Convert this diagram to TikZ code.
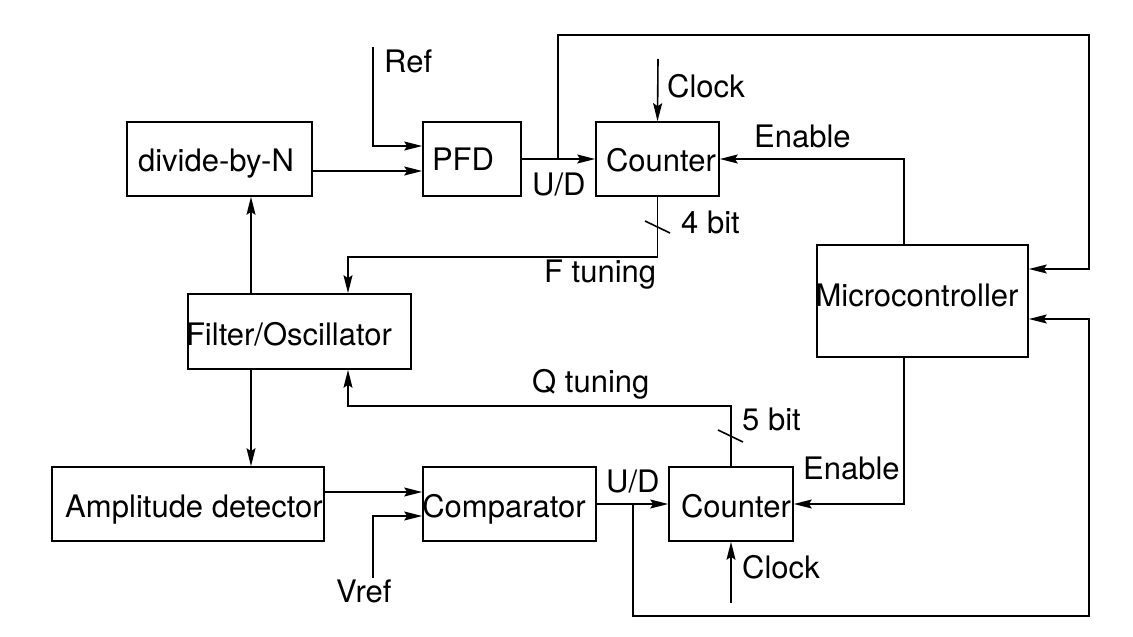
\documentclass[tikz,border=0pt]{standalone}
\usepackage{fontspec}
\setmainfont{TeX Gyre Heros}
\usetikzlibrary{arrows.meta,calc}
\begin{document}
\begin{tikzpicture}[x=1pt,y=-1pt,
  box/.style={draw,line width=1.6pt,inner sep=0pt,minimum height=74pt},
  lbl/.style={inner sep=0pt,font=\fontsize{31}{36}\selectfont},
  wire/.style={line width=1.6pt},
  arr/.style={line width=1.6pt,-{Stealth[length=18pt,width=9pt,inset=3pt]}},
  tickmark/.style={line width=1.6pt}]
\useasboundingbox (0,0) rectangle (1133,637);
% boxes
\node[box,minimum width=185pt] (div) at (219.5,159) {};
\node[box,minimum width=98pt] (pfd) at (472,159) {};
\node[box,minimum width=123pt] (cnt1) at (657.5,159) {};
\node[box,minimum width=211pt,minimum height=112pt] (mcu) at (922.5,301) {};
\node[box,minimum width=223pt,minimum height=75pt] (filt) at (299.5,331.5) {};
\node[box,minimum width=272pt] (amp) at (188,504) {};
\node[box,minimum width=173pt] (comp) at (509.5,504) {};
\node[box,minimum width=124pt] (cnt2) at (731,504) {};
% box texts
\node[lbl,anchor=base] (tdiv) at (216,171) {divide-by-N};
\node[lbl,anchor=base] (tpfd) at (463,170) {PFD};
\node[lbl,anchor=base] (tcnt1) at (661,171) {Counter};
\node[lbl,anchor=base] (tmcu) at (917,306) {Microcontroller};
\node[lbl,anchor=base] (tfilt) at (289,345) {Filter/Oscillator};
\node[lbl,anchor=base] (tamp) at (194,517) {Amplitude detector};
\node[lbl,anchor=base] (tcomp) at (504,517) {Comparator};
\node[lbl,anchor=base] (tcnt2) at (736,517) {Counter};
% labels
\node[lbl,anchor=base west] (lref) at (384,72) {Ref};
\node[lbl,anchor=base west] (lclk1) at (667,97) {Clock};
\node[lbl,anchor=base west] (lud1) at (532,195) {U/D};
\node[lbl,anchor=base west] (len1) at (754,147) {Enable};
\node[lbl,anchor=base west] (l4) at (681,233) {4 bit};
\node[lbl,anchor=base west] (lf) at (544,282) {F tuning};
\node[lbl,anchor=base west] (lq) at (532,392) {Q tuning};
\node[lbl,anchor=base west] (l5) at (742,430) {5 bit};
\node[lbl,anchor=base west] (len2) at (803,479) {Enable};
\node[lbl,anchor=base west] (lud2) at (606,492) {U/D};
\node[lbl,anchor=base west] (lclk2) at (742,578) {Clock};
\node[lbl,anchor=base west] (lvref) at (336,602) {Vref};
% coordinates
\coordinate (refTop) at (373,47);
\coordinate (br1) at (558,159);
\coordinate (tr) at (1089,35);
\coordinate (clk1) at (658,59);
\coordinate (fl) at (348,257);
\coordinate (tk1) at (658,227);
\coordinate (ql) at (348,406);
\coordinate (tk2) at (731,436);
\coordinate (vref) at (373,578);
\coordinate (br2) at (633,504);
\coordinate (bl) at (1089,616);
\coordinate (clk2) at (731,603);
% connectors
\draw[arr] (refTop) |- ([yshift=13pt]pfd.west);
\draw[arr] ([yshift=-12pt]div.east) -- ([yshift=-12pt]pfd.west);
\draw[arr] (pfd.east) -- (cnt1.west);
\draw[arr] (br1) |- (tr) |- ([yshift=32pt]mcu.east);
\draw[arr] (clk1) -- (cnt1.north);
\draw[arr] ([xshift=-18.5pt]mcu.north) |- (cnt1.east);
\draw[arr] (cnt1.south) |- (fl) -- (fl |- filt.north);
\draw[tickmark] ($(tk1)+(-13,-6)$) -- ($(tk1)+(12,6)$);
\draw[arr] ([xshift=-48.5pt]filt.north) -- ([xshift=-48.5pt]filt.north |- div.south);
\draw[arr] ([xshift=-48.5pt]filt.south) -- ([xshift=-48.5pt]filt.south |- amp.north);
\draw[arr] (cnt2.north) |- (ql) -- (ql |- filt.south);
\draw[tickmark] ($(tk2)+(-13,-6)$) -- ($(tk2)+(12,6)$);
\draw[arr] ([yshift=12pt]amp.east) -- ([yshift=12pt]comp.west);
\draw[arr] (vref) |- ([yshift=-12pt]comp.west);
\draw[arr] (comp.east) -- (cnt2.west);
\draw[arr] (br2) |- (bl) |- ([yshift=-18pt]mcu.east);
\draw[arr] ([xshift=-18.5pt]mcu.south) |- (cnt2.east);
\draw[arr] (clk2) -- (cnt2.south);
\end{tikzpicture}
\end{document}
